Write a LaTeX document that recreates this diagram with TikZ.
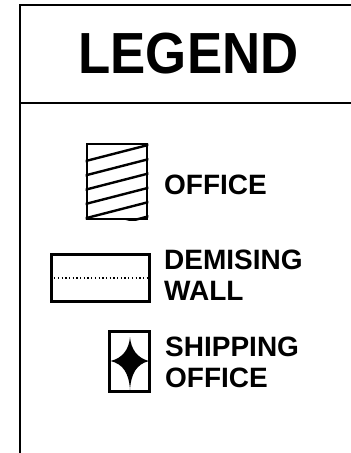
\documentclass[tikz,border=0pt]{standalone}
\usepackage{fontspec}
\setmainfont{Liberation Sans}
\newfontfamily\titlefont[FakeStretch=0.91]{Liberation Sans}
\begin{document}
\begin{tikzpicture}[x=1pt,y=-1pt,
  frameline/.style={line width=2pt},
  boxstyle/.style={draw, line width=2.7pt, inner sep=0pt},
  lbl/.style={font=\bfseries\fontsize{28}{30.5}\selectfont, anchor=base west, inner sep=0pt, align=left},
  hatch/.style={line width=2.4pt}]
\useasboundingbox (0,0) rectangle (351,453);
% frame
\draw[frameline] (20,453) -- (20,5) -- (351,5);
\draw[frameline] (20,103) -- (351,103);
\node[font=\titlefont\bfseries\fontsize{58}{60}\selectfont, anchor=base, inner sep=0pt] (title) at (188.5,73) {LEGEND};
% office
\node[boxstyle, minimum width=60pt, minimum height=75pt] (officebox) at (117,181.5) {};
\begin{scope}
  \clip (officebox.south west) rectangle (officebox.north east);
  \foreach \k in {0,...,5}
    \draw[hatch] (80,{162.5+14.3*\k}) -- (155,{143.2+14.3*\k});
\end{scope}
\node[boxstyle, minimum width=60pt, minimum height=75pt] at (117,181.5) {};
\node[lbl] (officelbl) at (164,194) {OFFICE};
% demising wall
\node[boxstyle, minimum width=98pt, minimum height=47pt] (wallbox) at (100.5,278) {};
\draw[line width=1.6pt, dash pattern=on 1.3pt off 2.4pt] ([xshift=4pt]wallbox.west) -- ([xshift=-4pt]wallbox.east);
\node[lbl] (walllbl) at (164,300) {DEMISING\\WALL};
% shipping office
\node[boxstyle, minimum width=40pt, minimum height=60pt] (shipbox) at (129.5,361.5) {};
\fill (130,337) .. controls (131,349) and (137,358) .. (149,361)
  .. controls (137,364) and (131,373) .. (130,390)
  .. controls (129,373) and (123,364) .. (110.5,361)
  .. controls (123,358) and (129,349) .. cycle;
\node[lbl] (shiplbl) at (165,387) {SHIPPING\\OFFICE};
\end{tikzpicture}
\end{document}
